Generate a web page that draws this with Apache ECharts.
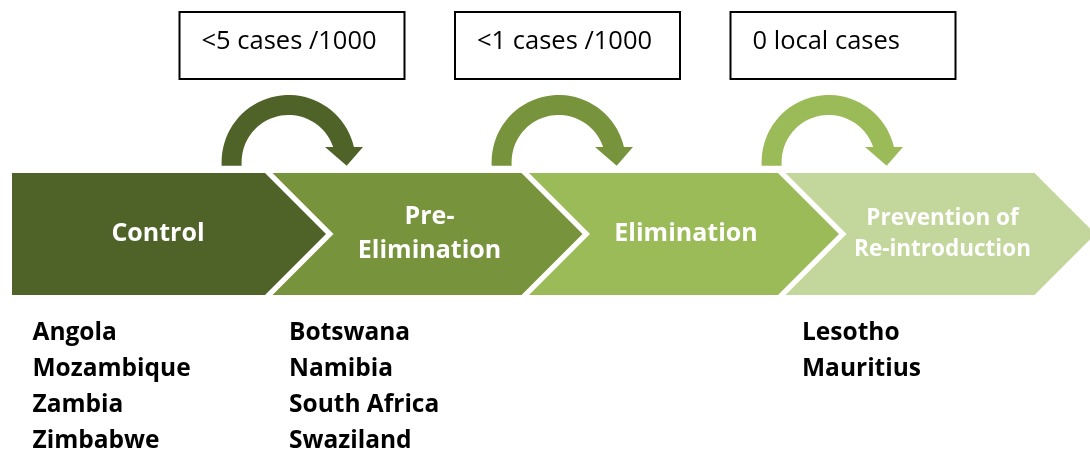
<!DOCTYPE html>
<html>
<head>
<meta charset="utf-8">
<script src="https://cdn.jsdelivr.net/npm/echarts@6/dist/echarts.min.js"></script>
<style>
  html, body { margin: 0; padding: 0; background: #ffffff; }
  #chart { width: 1090px; height: 452px; }
</style>
</head>
<body>
<div id="chart"></div>
<script>
// ---------------- data ----------------
const stages = ['Control', 'Pre-\nElimination', 'Elimination', 'Prevention of\nRe-introduction'];
const thresholds = ['<5 cases /1000', '<1 cases /1000', '0 local cases'];
const controlCountries = ['Angola', 'Mozambique', 'Zambia', 'Zimbabwe'];
const preEliminationCountries = ['Botswana', 'Namibia', 'South Africa', 'Swaziland'];
const eliminationCountries = [];
const preventionCountries = ['Lesotho', 'Mauritius'];
const stageColors = ['#4F6228', '#77933C', '#9BBB59', '#C3D69B'];

// ---------------- layout (pixels in y-axis units) ----------------
const L = {
  chevTop: 173, chevBot: 295, chevLen: 249, firstExtra: 4,
  labelOffset: [142, 157, 157, 157],
  labelFont: [25, 25, 25, 22.5],
  labelLine: [34.5, 34.5, 34.5, 31],
  listTop: 333.5, listGap: 36, listInset: 16.5,
  arcCy: 162, arcR: 67, arcR0: 47, legDrop: 3.7, headBaseY: -15,
  headL: 36.4, headR: 74.4, headTipX: 58.1,
  boxW: 225, boxTop: 12, boxBot: 79, boxInset: 22, boxTextY: 41.5
};
const FONT = '"Open Sans", "Noto Sans", sans-serif';

const stageLists = [controlCountries, preEliminationCountries, eliminationCountries, preventionCountries];
const countryData = [];
stageLists.forEach((list, s) => list.forEach((c, k) => countryData.push({ value: [s, k], name: c })));

const chart = echarts.init(document.getElementById('chart'), null, { renderer: 'canvas' });

function hiddenCat(gridIndex, data) {
  return { type: 'category', gridIndex, data, boundaryGap: true, show: false };
}
function hiddenVal(gridIndex) {
  return { type: 'value', gridIndex, min: 0, max: 452, inverse: true, show: false };
}

function renderChevron(params, api) {
  const i = api.value(0);
  const cx = api.coord([i, 0])[0];
  const bw = api.size([1, 0])[0];
  const x0 = cx - bw / 2;
  const yT = api.coord([0, L.chevTop])[1];
  const yB = api.coord([0, L.chevBot])[1];
  const yM = (yT + yB) / 2;
  const d = (yB - yT) / 2;
  const xr = x0 + L.chevLen;
  let pts;
  if (i === 0) {
    pts = [[x0 - L.firstExtra, yT], [xr, yT], [xr + d, yM], [xr, yB], [x0 - L.firstExtra, yB]];
  } else {
    pts = [[x0, yT], [xr, yT], [xr + d, yM], [xr, yB], [x0, yB], [x0 + d, yM]];
  }
  return {
    type: 'group',
    children: [
      { type: 'polygon', shape: { points: pts }, style: { fill: stageColors[i], stroke: null } },
      {
        type: 'text',
        style: {
          text: stages[i], x: x0 + L.labelOffset[i], y: yM,
          align: 'center', verticalAlign: 'middle',
          font: 'bold ' + L.labelFont[i] + 'px ' + FONT,
          lineHeight: L.labelLine[i], fill: '#ffffff'
        }
      }
    ]
  };
}

function renderCountry(params, api) {
  const s = api.value(0), k = api.value(1);
  const cx = api.coord([s, 0])[0];
  const bw = api.size([1, 0])[0];
  const y = api.coord([0, L.listTop + k * L.listGap])[1];
  return {
    type: 'text',
    style: {
      text: countryData[params.dataIndex].name, x: cx - bw / 2 + L.listInset, y: y,
      align: 'left', verticalAlign: 'middle',
      font: 'bold 24.5px ' + FONT, fill: '#000000'
    }
  };
}

function renderArrow(params, api) {
  const i = api.value(0);
  const cx = api.coord([i, 0])[0];
  const cy = api.coord([0, L.arcCy])[1];
  const R = L.arcR, r = L.arcR0, hb = L.headBaseY;
  const pts = [];
  pts.push([cx - R, cy + L.legDrop]);
  const aO = Math.asin(-hb / R), aI = Math.asin(-hb / r);
  const N = 40;
  for (let n = 0; n <= N; n++) {
    const a = Math.PI - (Math.PI - aO) * n / N;
    pts.push([cx + R * Math.cos(a), cy - R * Math.sin(a)]);
  }
  for (let n = 0; n <= N; n++) {
    const a = aI + (Math.PI - aI) * n / N;
    pts.push([cx + r * Math.cos(a), cy - r * Math.sin(a)]);
  }
  pts.push([cx - r, cy + L.legDrop]);
  const head = [[cx + L.headL, cy + hb], [cx + L.headR, cy + hb], [cx + L.headTipX, cy + L.legDrop]];
  return {
    type: 'group',
    children: [
      { type: 'polygon', shape: { points: pts }, style: { fill: stageColors[i], stroke: null } },
      { type: 'polygon', shape: { points: head }, style: { fill: stageColors[i], stroke: null } }
    ]
  };
}

function renderBox(params, api) {
  const i = api.value(0);
  const cx = api.coord([i, 0])[0];
  const yT = api.coord([0, L.boxTop])[1];
  const yB = api.coord([0, L.boxBot])[1];
  const x0 = cx - L.boxW / 2;
  return {
    type: 'group',
    children: [
      { type: 'rect', shape: { x: x0, y: yT, width: L.boxW, height: yB - yT },
        style: { fill: '#ffffff', stroke: '#000000', lineWidth: 2 } },
      { type: 'text', style: {
          text: thresholds[i], x: x0 + L.boxInset, y: api.coord([0, L.boxTextY])[1],
          align: 'left', verticalAlign: 'middle',
          font: '25.5px ' + FONT, fill: '#000000' } }
    ]
  };
}

const option = {
  animation: false,
  backgroundColor: '#ffffff',
  grid: [
    { left: 16, top: 0, width: 1026, height: 452 },
    { left: 153.6, top: 0, width: 810, height: 452 },
    { left: 154.25, top: 0, width: 826.5, height: 452 }
  ],
  xAxis: [hiddenCat(0, stages), hiddenCat(1, thresholds), hiddenCat(2, thresholds)],
  yAxis: [hiddenVal(0), hiddenVal(1), hiddenVal(2)],
  series: [
    { type: 'custom', name: 'stages', xAxisIndex: 0, yAxisIndex: 0,
      data: stages.map((s, i) => ({ value: [i, 0], name: s })), encode: { x: 0, y: 1 },
      renderItem: renderChevron, silent: true, clip: false },
    { type: 'custom', name: 'countries', xAxisIndex: 0, yAxisIndex: 0,
      data: countryData, encode: { x: 0, y: 1 },
      renderItem: renderCountry, silent: true, clip: false },
    { type: 'custom', name: 'transitions', xAxisIndex: 1, yAxisIndex: 1,
      data: thresholds.map((t, i) => ({ value: [i, 0], name: t })), encode: { x: 0, y: 1 },
      renderItem: renderArrow, silent: true, clip: false },
    { type: 'custom', name: 'thresholds', xAxisIndex: 2, yAxisIndex: 2,
      data: thresholds.map((t, i) => ({ value: [i, 0], name: t })), encode: { x: 0, y: 1 },
      renderItem: renderBox, silent: true, clip: false }
  ]
};
chart.setOption(option);
</script>
</body>
</html>
